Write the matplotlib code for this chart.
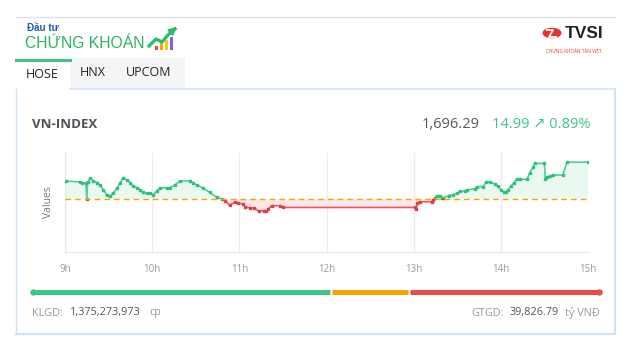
import matplotlib
matplotlib.use("Agg")
import matplotlib.pyplot as plt
from matplotlib.patches import Rectangle, Circle, FancyArrowPatch
from matplotlib.lines import Line2D
import numpy as np

W, H = 637, 355
plt.rcParams['font.family'] = ['Open Sans', 'DejaVu Sans']

# ---------------- data ----------------
ref_value = 1681.30
last_value = 1696.29
change = 14.99
change_pct = 0.89
hour_ticks = [9, 10, 11, 12, 13, 14, 15]
hour_labels = ["9h", "10h", "11h", "12h", "13h", "14h", "15h"]
times = [9.01, 9.17, 9.20, 9.24, 9.25, 9.26, 9.29, 9.32, 9.37, 9.40, 9.44, 9.48,
         9.52, 9.55, 9.60, 9.63, 9.67, 9.71, 9.75, 9.78, 9.83, 9.86, 9.89, 9.94,
         9.98, 10.01, 10.05, 10.09, 10.17, 10.20, 10.26, 10.32, 10.43, 10.47,
         10.51, 10.58, 10.66, 10.74, 10.80, 10.84, 10.89, 10.95, 10.98, 11.04,
         11.07, 11.12, 11.17, 11.22, 11.28, 11.31, 11.33, 11.37, 11.47, 11.50,
         13.02, 13.03, 13.04, 13.07, 13.21, 13.22, 13.24, 13.27, 13.30, 13.32,
         13.34, 13.40, 13.45, 13.50, 13.53, 13.59, 13.61, 13.70, 13.73, 13.80,
         13.83, 13.88, 13.93, 13.97, 14.00, 14.04, 14.06, 14.08, 14.12, 14.15,
         14.18, 14.22, 14.30, 14.33, 14.37, 14.39, 14.50, 14.51, 14.53, 14.56,
         14.60, 14.71, 14.76, 15.00]
values = [1688.7, 1688.3, 1687.9, 1687.9, 1681.3, 1688.3, 1690.0, 1688.7, 1687.9,
          1687.1, 1685.1, 1683.0, 1682.6, 1683.8, 1685.9, 1687.9, 1690.0, 1689.1,
          1687.9, 1686.7, 1685.9, 1685.1, 1684.2, 1683.8, 1683.8, 1683.0, 1684.6,
          1685.9, 1685.9, 1685.9, 1687.1, 1688.7, 1688.7, 1687.9, 1687.1, 1685.9,
          1684.1, 1682.1, 1681.5, 1680.5, 1678.9, 1680.1, 1680.0, 1679.3, 1678.3,
          1677.7, 1677.7, 1676.6, 1676.6, 1676.6, 1677.3, 1678.7, 1678.7, 1678.0,
          1678.0, 1677.4, 1679.7, 1680.3, 1680.3, 1681.0, 1681.7, 1682.8, 1682.8,
          1681.7, 1681.7, 1682.8, 1683.1, 1683.7, 1684.6, 1684.6, 1685.1, 1685.5,
          1686.4, 1686.4, 1688.4, 1688.3, 1687.5, 1686.5, 1685.1, 1684.1, 1684.1,
          1685.1, 1686.7, 1687.9, 1689.4, 1689.4, 1689.4, 1691.9, 1694.3, 1695.8,
          1695.8, 1689.5, 1690.3, 1690.7, 1691.1, 1691.1, 1696.3, 1696.29]
# bar proportions (pixels along track): advancing / unchanged / declining
bar_parts = [299, 78, 191]
bar_colors = ["#3cc68a", "#f7a600", "#ea4a4a"]
klgd = "1,375,273,973"
gtgd = "39,826.79"

GREEN = "#3cc68a"
RED = "#e84b4f"

fig = plt.figure(figsize=(W / 100, H / 100), dpi=100)
fig.patch.set_facecolor("white")


def fx(x):
    return x / W


def fy(y):
    return 1 - y / H


def T(x, y, s, **kw):
    fig.text(fx(x), fy(y), s, **kw)


def hline(x0, x1, y, color, lw=1.0, **kw):
    fig.add_artist(Line2D([fx(x0), fx(x1)], [fy(y), fy(y)], color=color, lw=lw,
                          transform=fig.transFigure, **kw))


def vline(x, y0, y1, color, lw=1.0):
    fig.add_artist(Line2D([fx(x), fx(x)], [fy(y0), fy(y1)], color=color, lw=lw,
                          transform=fig.transFigure))


def rect(x0, y0, x1, y1, color, z=0):
    fig.add_artist(Rectangle((fx(x0), fy(y1)), fx(x1) - fx(x0), fy(y0) - fy(y1),
                             transform=fig.transFigure, facecolor=color,
                             edgecolor="none", zorder=z))


# top separator
hline(16, 615, 17, "#dfe3e8", lw=1.0)

# --- logo left ---
T(27, 28, "Đầu tư", fontsize=7, fontweight="bold", color="#1f5fa8",
  va="center", ha="left", family=["Liberation Sans", "DejaVu Sans"])
T(25, 43, "CHỨNG KHOÁN", fontsize=11.3, color="#28b463", va="center", ha="left",
  family=["Liberation Sans", "DejaVu Sans"])
# icon bars
for i, c in enumerate(["#e84b4f", "#f7a600", "#f5d000", "#8e5cd9"]):
    h = 4 + i * 3
    rect(155 + i * 5, 50 - h, 158 + i * 5, 50, c, z=2)
fig.add_artist(Line2D([fx(149), fx(156), fx(162), fx(168), fx(175)],
                      [fy(46), fy(39), fy(42), fy(35), fy(29)],
                      color="#2ebd6e", lw=2.4, transform=fig.transFigure, zorder=3))
fig.add_artist(FancyArrowPatch((fx(171), fy(32)), (fx(179), fy(25)),
                               transform=fig.transFigure, arrowstyle="-|>",
                               mutation_scale=11, color="#2ebd6e", lw=1.5, zorder=3))

# --- logo right (TVSI) ---
fig.add_artist(Circle((fx(552), fy(33)), 9.5 / W, transform=fig.transFigure,
                      facecolor="#e8312f", edgecolor="none", zorder=2))
fig.add_artist(Line2D([fx(547), fx(553), fx(549), fx(556)],
                      [fy(30), fy(30), fy(37), fy(37)], color="white", lw=1.3,
                      transform=fig.transFigure, zorder=3))
T(584, 33, "TVSI", fontsize=12.5, fontweight="bold", color="#222222",
  va="center", ha="center", family=["Liberation Sans", "DejaVu Sans"])
T(574, 51, "CHỨNG KHOÁN TÂN VIỆT", fontsize=3.3, color="#e8312f",
  va="center", ha="center")

# --- tabs ---
rect(70, 58, 185, 89, "#f4f5f6", z=0)
hline(16, 70, 59.5, "#3cc68a", lw=2.2)
T(26, 75, "HOSE", fontsize=9, color="#222222", va="center", ha="left")
T(80, 72, "HNX", fontsize=9, color="#222222", va="center", ha="left")
T(126, 72, "UPCOM", fontsize=9, color="#222222", va="center", ha="left")

# --- card ---
card_c = "#cfe3f8"
hline(70, 615, 89, card_c, lw=1.2)
vline(615, 89, 334, card_c, lw=1.5)
vline(16, 89, 334, card_c, lw=1.0)
hline(16, 615, 334, card_c, lw=1.5)

T(32, 124, "VN-INDEX", fontsize=9.5, fontweight="bold", color="#4d5259",
  va="center", ha="left")
T(480, 125, f"{last_value:,.2f}", fontsize=10.5, color="#555a60",
  va="center", ha="right")
T(591, 125, f"{change:.2f} ↗ {change_pct:.2f}%", fontsize=10.5, color=GREEN,
  va="center", ha="right")

# --- chart ---
ax = fig.add_axes([fx(65), fy(252), fx(588) - fx(65), fy(153) - fy(252)])
ax.set_xlim(9, 15)
ax.set_ylim(1660, 1700)
ax.set_facecolor("none")
t = np.array(times)
v = np.array(values)
ax.fill_between(t, v, ref_value, where=v >= ref_value, interpolate=True,
                color="#e9f8f0", lw=0)
ax.fill_between(t, v, ref_value, where=v <= ref_value, interpolate=True,
                color="#fde7e8", lw=0)
up_clip = Rectangle((9, ref_value), 6, 100, transform=ax.transData)
dn_clip = Rectangle((9, ref_value - 100), 6, 100, transform=ax.transData)
l1, = ax.plot(t, v, color="#4fcf95", lw=1.2, marker="s", ms=1.5,
              mfc="#2fbf7c", mec="#2fbf7c", zorder=3)
l1.set_clip_path(up_clip)
l2, = ax.plot(t, v, color="#ec5a5e", lw=1.2, marker="s", ms=1.5,
              mfc="#e23b40", mec="#e23b40", zorder=3)
l2.set_clip_path(dn_clip)
ax.axhline(ref_value, color="#f7a600", lw=1.0, ls=(0, (4, 3)), zorder=4)
ax.set_xticks(hour_ticks)
ax.set_xticklabels(hour_labels)
ax.set_yticks([])
ax.grid(axis="x", color="#ececec", lw=1.0)
for s in ["top", "right"]:
    ax.spines[s].set_visible(False)
for s in ["left", "bottom"]:
    ax.spines[s].set_color("#e6e6e6")
ax.tick_params(axis="x", length=0, pad=9, labelsize=7, labelcolor="#9a9a9a")
ax.set_ylabel("Values", fontsize=7.5, color="#777777", labelpad=8)

# --- breadth bar ---
x = 33
gap = 2
for part, c in zip(bar_parts, bar_colors):
    hline(x, x + part - gap, 292, c, lw=3.6, solid_capstyle="butt")
    x += part
fig.add_artist(Line2D([fx(33)], [fy(292)], marker="o", ms=3.6, color=bar_colors[0],
                      transform=fig.transFigure, lw=0))
fig.add_artist(Line2D([fx(x - gap)], [fy(292)], marker="o", ms=3.6,
                      color=bar_colors[-1], transform=fig.transFigure, lw=0))

T(32, 313, "KLGD:", fontsize=7.8, color="#999999", va="center", ha="left")
T(70, 313, klgd, fontsize=7.8, color="#555555", va="center", ha="left")
T(149, 313, "cp", fontsize=7.8, color="#999999", va="center", ha="left")
T(600, 313, "tỷ VNĐ", fontsize=7.8, color="#999999", va="center", ha="right")
T(559, 313, gtgd, fontsize=7.8, color="#555555", va="center", ha="right")
T(504, 313, "GTGD:", fontsize=7.8, color="#999999", va="center", ha="right")

fig.savefig("out.png", dpi=100, facecolor="white")
